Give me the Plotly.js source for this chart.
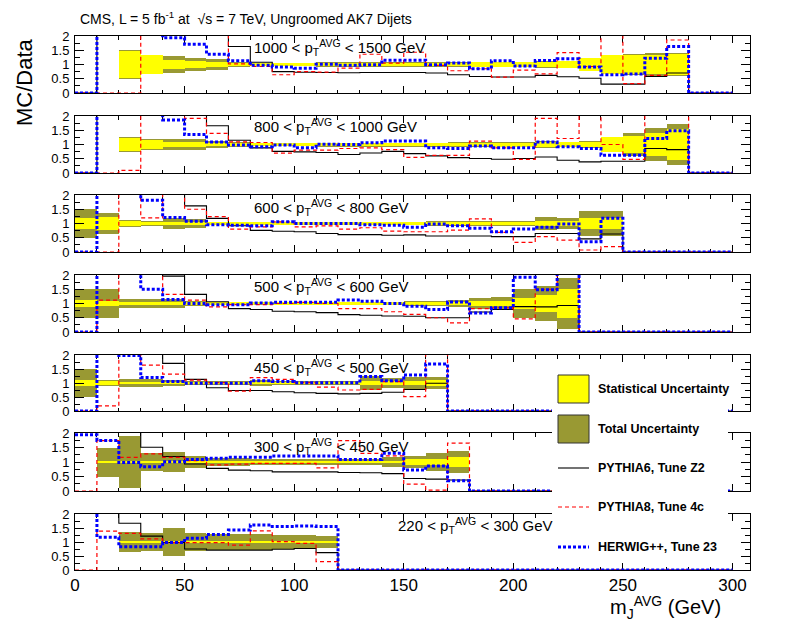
<!DOCTYPE html>
<html><head><meta charset="utf-8">
<script src="https://cdn.plot.ly/plotly-3.0.1.min.js"></script>
<style>html,body{margin:0;padding:0;background:#fff}</style>
</head><body><div id="chart" style="width:789px;height:637px"></div>
<script>
// ---------------- data ----------------
const binEdges = [0,10,20,30,40,50,60,70,80,90,100,110,120,130,140,150,160,170,180,190,200,210,220,230,240,250,260,270,280,290,300];
const panelLabels = [
  "1000 &lt; p<sub>T</sub><sup>AVG</sup> &lt; 1500 GeV",
  "800 &lt; p<sub>T</sub><sup>AVG</sup> &lt; 1000 GeV",
  "600 &lt; p<sub>T</sub><sup>AVG</sup> &lt; 800 GeV",
  "500 &lt; p<sub>T</sub><sup>AVG</sup> &lt; 600 GeV",
  "450 &lt; p<sub>T</sub><sup>AVG</sup> &lt; 500 GeV",
  "300 &lt; p<sub>T</sub><sup>AVG</sup> &lt; 450 GeV",
  "220 &lt; p<sub>T</sub><sup>AVG</sup> &lt; 300 GeV"
];
const seriesNames = ["Statistical Uncertainty","Total Uncertainty","PYTHIA6, Tune Z2","PYTHIA8, Tune 4c","HERWIG++, Tune 23"];
// values of 3 are off-scale (above the 0-2 range)
const p1_pythia6 = [0,3,3,3,3,3,3,1.63,1.08,0.75,0.73,0.72,0.71,0.72,0.72,0.72,0.70,0.64,0.58,0.56,0.56,0.62,0.57,0.52,0.31,0.31,0.58,0.70,0,0];
const p1_pythia8 = [0,0,0,3,3,3,3,1.02,0.93,0.64,0.75,0.73,0.87,1.36,1.05,1.43,0.97,0.78,0.85,0.56,0.80,0.67,1.42,0.93,3,0.33,0.62,1.86,0,0];
const p1_herwig  = [0,3,3,3,1.94,1.71,1.36,1.13,0.97,0.91,0.87,1.01,0.97,0.99,1.15,1.15,0.99,1.05,0.85,1.13,0.95,1.14,1.20,0.91,0.64,0.67,1.22,1.63,0,0];
const p1_stat    = [0,0,0.48,0.32,0.17,0.13,0.10,0.07,0.05,0.05,0.05,0.06,0.06,0.06,0.07,0.07,0.07,0.07,0.08,0.08,0.09,0.10,0.12,0.22,0.32,0.34,0.34,0.36,0,0];
const p1_total   = [0,0,0.50,0.34,0.29,0.23,0.20,0.10,0.07,0.07,0.07,0.08,0.09,0.08,0.08,0.08,0.08,0.08,0.10,0.10,0.10,0.11,0.14,0.24,0.34,0.36,0.42,0.40,0,0];

const p2_pythia6 = [0,3,3,3,3,3,1.66,1.15,0.88,0.76,0.74,0.72,0.65,0.70,0.76,0.68,0.60,0.54,0.51,0.48,0.51,0.56,0.45,0.39,0.41,0.41,0.86,0.82,0,0];
const p2_pythia8 = [0,0,0.09,3,3,1.92,1.39,1.09,1.07,0.70,0.80,0.80,0.86,0.88,0.82,0.55,0.62,0.62,1.12,0.88,0.48,1.92,1.21,3,1.00,0.48,3,3,0,0];
const p2_herwig  = [0,3,3,3,1.86,1.35,1.09,0.98,0.92,0.98,0.89,1.01,1.00,1.06,1.12,1.12,0.89,0.86,0.95,0.89,0.89,1.09,0.92,0.86,0.62,0.62,1.21,1.48,0,0];
const p2_stat    = [0,0,0.24,0.16,0.10,0.08,0.06,0.05,0.04,0.04,0.04,0.04,0.05,0.05,0.05,0.05,0.06,0.06,0.06,0.07,0.07,0.08,0.09,0.10,0.26,0.30,0.42,0.55,0,0];
const p2_total   = [0,0,0.25,0.18,0.21,0.18,0.14,0.08,0.06,0.06,0.06,0.07,0.07,0.07,0.07,0.07,0.07,0.08,0.10,0.10,0.10,0.13,0.10,0.12,0.28,0.40,0.57,0.73,0,0];

const p3_pythia6 = [3,3,3,3,3,1.62,1.18,0.92,0.76,0.73,0.71,0.65,0.61,0.61,0.59,0.60,0.56,0.56,0.56,0.54,0.54,0.65,0.65,0.46,0.63,0,0,0,0,0];
const p3_pythia8 = [0,0,3,1.20,3,1.50,1.24,0.80,0.88,1.06,0.88,0.92,0.80,0.85,0.73,0.71,0.71,0.77,1.16,0.69,0.34,0.54,0.42,0.07,0.19,0,0,0,0,0];
const p3_herwig  = [0,3,3,1.82,1.21,1.08,0.96,0.94,0.92,1.06,1.00,1.00,1.00,0.96,0.94,0.87,0.98,0.92,0.83,0.71,0.81,0.87,0.98,0.36,1.18,0,0,0,0,0];
const p3_stat    = [0.18,0.22,0.10,0.07,0.07,0.06,0.04,0.04,0.04,0.04,0.04,0.04,0.04,0.04,0.04,0.05,0.05,0.05,0.05,0.05,0.06,0.08,0.10,0.20,0.18,0,0,0,0,0];
const p3_total   = [0.52,0.36,0.12,0.10,0.18,0.15,0.06,0.06,0.06,0.06,0.06,0.06,0.06,0.06,0.06,0.07,0.09,0.08,0.09,0.09,0.10,0.22,0.18,0.45,0.45,0,0,0,0,0];

const p4_pythia6 = [3,3,3,3,1.96,1.32,1.06,0.82,0.79,0.73,0.71,0.68,0.61,0.59,0.56,0.55,0.50,0.50,0.70,0.79,0.89,0.88,0.93,0,0,0,0,0,0,0];
const p4_pythia8 = [0,1.12,3,3,1.32,1.12,0.88,0.96,0.96,1.00,1.04,1.00,0.82,0.82,0.71,0.62,0.50,0.32,0.82,0.85,0.46,1.50,3,0,0,0,0,0,0,0];
const p4_herwig  = [0,3,3,1.50,1.14,1.00,0.96,0.96,1.02,1.04,1.04,1.04,1.12,1.08,1.00,0.90,0.79,1.05,0.67,0.85,1.92,1.48,3,0,0,0,0,0,0,0];
const p4_stat    = [0.12,0.10,0.07,0.06,0.06,0.05,0.04,0.04,0.04,0.04,0.04,0.04,0.04,0.04,0.04,0.05,0.05,0.06,0.10,0.10,0.20,0.30,0.50,0,0,0,0,0,0,0];
const p4_total   = [0.50,0.50,0.17,0.16,0.15,0.10,0.06,0.06,0.06,0.06,0.06,0.06,0.06,0.06,0.06,0.08,0.10,0.12,0.20,0.22,0.50,0.63,0.88,0,0,0,0,0,0,0];

const p5_pythia6 = [3,3,3,3,1.70,1.13,0.83,0.73,0.73,0.69,0.65,0.63,0.61,0.63,0.67,0.77,0.99,0,0,0,0,0,0,0,0,0,0,0,0,0];
const p5_pythia8 = [0,0.18,3,1.64,1.32,1.10,1.01,0.71,1.19,1.13,1.01,0.85,0.75,0.77,1.05,0.51,3,0,0,0,0,0,0,0,0,0,0,0,0,0];
const p5_herwig  = [0,3,1.98,1.20,1.05,0.99,0.99,0.99,1.08,1.05,1.01,1.01,1.01,1.23,1.08,1.29,1.68,0,0,0,0,0,0,0,0,0,0,0,0,0];
const p5_stat    = [0.10,0.08,0.05,0.05,0.04,0.04,0.04,0.04,0.04,0.04,0.04,0.04,0.04,0.07,0.07,0.08,0.12,0,0,0,0,0,0,0,0,0,0,0,0,0];
const p5_total   = [0.50,0.12,0.16,0.16,0.12,0.08,0.07,0.07,0.10,0.08,0.07,0.07,0.08,0.24,0.18,0.20,0.21,0,0,0,0,0,0,0,0,0,0,0,0,0];

const p6_pythia6 = [3,3,3,1.51,1.19,0.93,0.78,0.72,0.70,0.66,0.66,0.66,0.64,0.63,0.60,0.43,0.41,0.38,0,0,0,0,0,0,0,0,0,0,0,0];
const p6_pythia8 = [0,1.74,1.16,1.28,1.16,1.05,0.90,0.93,0.95,0.95,0.95,0.80,1.74,1.30,1.21,0.24,0.03,1.65,0,0,0,0,0,0,0,0,0,0,0,0];
const p6_herwig  = [1.94,1.74,0.98,0.84,1.01,1.09,1.13,1.16,1.16,1.21,1.21,1.21,1.09,1.09,1.30,0.72,0.86,0.35,0,0,0,0,0,0,0,0,0,0,0,0];
const p6_stat    = [0,0.02,0.02,0.03,0.03,0.03,0.04,0.04,0.04,0.04,0.04,0.04,0.04,0.04,0.04,0.10,0.10,0.18,0,0,0,0,0,0,0,0,0,0,0,0];
const p6_total   = [0,0.50,0.89,0.32,0.33,0.20,0.15,0.13,0.12,0.12,0.12,0.12,0.12,0.12,0.17,0.20,0.30,0.38,0,0,0,0,0,0,0,0,0,0,0,0];

const p7_pythia6 = [3,3,1.67,1.21,0.98,0.75,0.71,0.71,0.71,0.74,0.77,0.62,0,0,0,0,0,0,0,0,0,0,0,0,0,0,0,0,0,0];
const p7_pythia8 = [0,1.39,1.31,1.11,0.98,0.98,0.98,0.89,1.40,1.01,0.95,0.30,0,0,0,0,0,0,0,0,0,0,0,0,0,0,0,0,0,0];
const p7_herwig  = [3,1.17,0.83,0.83,0.98,1.13,1.27,1.43,1.61,1.55,1.57,1.55,0,0,0,0,0,0,0,0,0,0,0,0,0,0,0,0,0,0];
const p7_stat    = [0,0,0.02,0.02,0.02,0.02,0.02,0.02,0.02,0.02,0.02,0.03,0,0,0,0,0,0,0,0,0,0,0,0,0,0,0,0,0,0];
const p7_total   = [0,0,0.37,0.33,0.51,0.33,0.30,0.30,0.30,0.25,0.25,0.22,0,0,0,0,0,0,0,0,0,0,0,0,0,0,0,0,0,0];

const panels = [
  {py6:p1_pythia6, py8:p1_pythia8, hw:p1_herwig, stat:p1_stat, tot:p1_total},
  {py6:p2_pythia6, py8:p2_pythia8, hw:p2_herwig, stat:p2_stat, tot:p2_total},
  {py6:p3_pythia6, py8:p3_pythia8, hw:p3_herwig, stat:p3_stat, tot:p3_total},
  {py6:p4_pythia6, py8:p4_pythia8, hw:p4_herwig, stat:p4_stat, tot:p4_total},
  {py6:p5_pythia6, py8:p5_pythia8, hw:p5_herwig, stat:p5_stat, tot:p5_total},
  {py6:p6_pythia6, py8:p6_pythia8, hw:p6_herwig, stat:p6_stat, tot:p6_total},
  {py6:p7_pythia6, py8:p7_pythia8, hw:p7_herwig, stat:p7_stat, tot:p7_total}
];

// ---------------- styling / layout ----------------
const W = 789, H = 637;
const FONT = "Liberation Sans, Arial, Helvetica, sans-serif";
const OLIVE = "#999933", YELLOW = "#ffff00", RED = "#ff0000", BLUE = "#0000ff";
const plotLeft = 75, plotRight = 750;
const panelTop = [36,116,195,275,355,433,514];
const panelBot = [93,173,252,332,411,491,570];
const labelPos = [[252,47],[252,127],[252,207],[252,287],[252,367],[252,446],[396,525]];
const px = x => x / W;
const py = y => 1 - y / H;

const centers = binEdges.slice(0,-1).map((e,i) => (e + binEdges[i+1]) / 2);
const step = v => v.concat([v[v.length-1]]);

const traces = [];
const layout = {
  width: W, height: H, autosize: false,
  margin: {l:0, r:0, t:0, b:0},
  paper_bgcolor: "#fff", plot_bgcolor: "rgba(0,0,0,0)",
  barmode: "overlay", bargap: 0,
  showlegend: false,
  font: {family: FONT, color: "#000"},
  shapes: [], annotations: []
};

panels.forEach((p, i) => {
  const xa = i === 0 ? "x" : "x" + (i+1);
  const ya = i === 0 ? "y" : "y" + (i+1);
  traces.push({type:"bar", x:centers, base:p.tot.map(v=>1-v), y:p.tot.map(v=>2*v), width:10,
    marker:{color:OLIVE, line:{width:0}}, xaxis:xa, yaxis:ya, hoverinfo:"skip", name:seriesNames[1]});
  traces.push({type:"bar", x:centers, base:p.stat.map(v=>1-v), y:p.stat.map(v=>2*v), width:10,
    marker:{color:YELLOW, line:{width:0}}, xaxis:xa, yaxis:ya, hoverinfo:"skip", name:seriesNames[0]});
  traces.push({type:"scatter", mode:"lines", x:binEdges, y:step(p.py6), line:{shape:"hv", color:"#000", width:1.1},
    xaxis:xa, yaxis:ya, hoverinfo:"skip", name:seriesNames[2]});
  traces.push({type:"scatter", mode:"lines", x:binEdges, y:step(p.py8), line:{shape:"hv", color:RED, width:1.2, dash:"4px,3px"},
    xaxis:xa, yaxis:ya, hoverinfo:"skip", name:seriesNames[3]});
  traces.push({type:"scatter", mode:"lines", x:binEdges, y:step(p.hw), line:{shape:"hv", color:BLUE, width:3, dash:"3px,2px"},
    xaxis:xa, yaxis:ya, hoverinfo:"skip", name:seriesNames[4]});

  layout[i === 0 ? "xaxis" : "xaxis" + (i+1)] = {
    domain:[px(plotLeft), px(plotRight)], range:[0,308], anchor:ya,
    ticks:"inside", tick0:0, dtick:50, ticklen:7, tickwidth:1, tickcolor:"#000",
    minor:{dtick:10, ticklen:3.5, tickwidth:1, tickcolor:"#000", ticks:"inside"},
    showline:true, linecolor:"#000", linewidth:1, mirror:"ticks",
    showgrid:false, zeroline:false, showticklabels: i === 6,
    tickfont:{size:17, family:FONT, color:"#000"}, layer:"below traces", fixedrange:true
  };
  layout[i === 0 ? "yaxis" : "yaxis" + (i+1)] = {
    domain:[py(panelBot[i]), py(panelTop[i])], range:[0,2], anchor:xa,
    ticks:"inside", tick0:0, dtick:0.5, ticklen:9, tickwidth:1, tickcolor:"#000",
    minor:{dtick:0.25, ticklen:5, tickwidth:1, tickcolor:"#000", ticks:"inside"},
    showline:true, linecolor:"#000", linewidth:1, mirror:"ticks",
    showgrid:false, zeroline:false, ticklabelstandoff:2,
    tickfont:{size:13, family:FONT, color:"#000"}, fixedrange:true
  };
  layout.annotations.push({xref:"paper", yref:"paper", x:px(labelPos[i][0]), y:py(labelPos[i][1]),
    xanchor:"left", yanchor:"middle", showarrow:false, text:panelLabels[i],
    font:{size:15, family:FONT, color:"#000"}});
});

// titles
layout.annotations.push({xref:"paper", yref:"paper", x:px(78), y:py(18), xanchor:"left", yanchor:"middle",
  showarrow:false, text:"CMS, L = 5 fb<sup>-1</sup> at  √s = 7 TeV, Ungroomed AK7 Dijets",
  font:{size:14, family:FONT, color:"#000"}});
layout.annotations.push({xref:"paper", yref:"paper", x:px(25), y:py(82), xanchor:"center", yanchor:"middle",
  showarrow:false, textangle:-90, text:"MC/Data", font:{size:22, family:FONT, color:"#000"}});
layout.annotations.push({xref:"paper", yref:"paper", x:px(723), y:py(607), xanchor:"right", yanchor:"middle",
  showarrow:false, text:"m<sub>J</sub><sup>AVG</sup> (GeV)", font:{size:20, family:FONT, color:"#000"}});

// legend (drawn as a ROOT-style box)
layout.shapes.push({type:"rect", xref:"paper", yref:"paper", layer:"above",
  x0:px(552), x1:px(728), y0:py(561), y1:py(362), fillcolor:"#fff", line:{width:0}});
layout.shapes.push({type:"rect", xref:"paper", yref:"paper", layer:"above",
  x0:px(558), x1:px(589), y0:py(403), y1:py(375), fillcolor:YELLOW, line:{color:"#333", width:1}});
layout.shapes.push({type:"rect", xref:"paper", yref:"paper", layer:"above",
  x0:px(558), x1:px(589), y0:py(443), y1:py(415), fillcolor:OLIVE, line:{color:"#333", width:1}});
layout.shapes.push({type:"line", xref:"paper", yref:"paper", layer:"above",
  x0:px(558), x1:px(589), y0:py(468), y1:py(468), line:{color:"#000", width:1.1}});
layout.shapes.push({type:"line", xref:"paper", yref:"paper", layer:"above",
  x0:px(558), x1:px(589), y0:py(507), y1:py(507), line:{color:RED, width:1.2, dash:"4px,3px"}});
layout.shapes.push({type:"line", xref:"paper", yref:"paper", layer:"above",
  x0:px(558), x1:px(589), y0:py(547), y1:py(547), line:{color:BLUE, width:3, dash:"3px,2px"}});
const legY = [389, 429, 468, 507, 547];
seriesNames.forEach((n, k) => {
  layout.annotations.push({xref:"paper", yref:"paper", x:px(596), y:py(legY[k]), xanchor:"left", yanchor:"middle",
    showarrow:false, text:"<b>" + n + "</b>", font:{size:12.5, family:FONT, color:"#000"}});
});

Plotly.newPlot("chart", traces, layout, {staticPlot:true, displayModeBar:false});
</script>
</body></html>
